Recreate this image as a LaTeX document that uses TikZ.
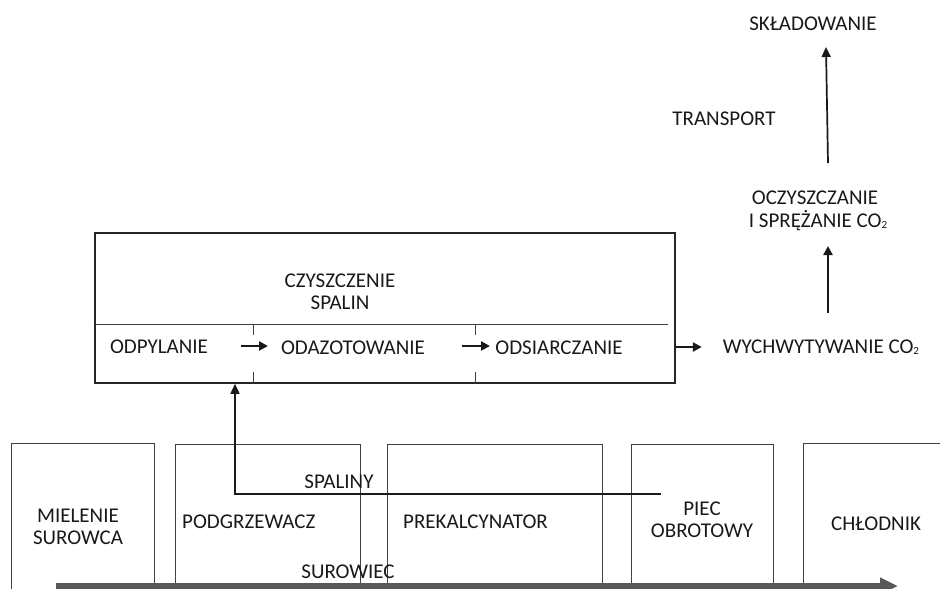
\documentclass[tikz,border=0pt]{standalone}
\usepackage{fontspec}
\setmainfont{Carlito}
\usetikzlibrary{arrows.meta}
\newcommand{\subtwo}{\raisebox{-1pt}{\fontsize{11}{11}\selectfont 2}}
\begin{document}
\begin{tikzpicture}[x=1pt,y=-1pt,
  lbl/.style={font=\fontsize{21}{22}\selectfont, text=black!90, inner sep=0pt, align=center},
  bigbox/.style={draw=black!85, line width=1.6pt, inner sep=0pt, minimum width=580pt, minimum height=150pt},
  stagebox/.style={draw=black!75, line width=0.9pt},
  tick/.style={draw=black!75, line width=0.9pt},
  flow/.style={draw=black!90, line width=2.6pt, -{Triangle[length=9pt,width=9pt]}},
  thinflow/.style={draw=black!90, line width=1.7pt, -{Triangle[length=10pt,width=9pt]}},
  gasflow/.style={draw=black!90, line width=1.6pt, -{Triangle[length=10pt,width=9pt]}},
  feed/.style={draw=black!65, line width=6pt, -{Triangle[length=18pt,width=16pt]}}
]
\useasboundingbox (0,0) rectangle (940,589);

% top gas cleaning box
\node[bigbox] (czysz) at (385,308) {};
\draw[stagebox] (95,324) -- (668,324);
\draw[tick] (253,324) -- (253,335);
\draw[tick] (253,372) -- (253,383);
\draw[tick] (475,324) -- (475,335);
\draw[tick] (475,372) -- (475,383);

\node[lbl] (cz) at (340,281) {CZYSZCZENIE};
\node[lbl] (sp) at (340,303) {SPALIN};
\node[lbl] (odp) at (159,347) {ODPYLANIE};
\node[lbl] (oda) at (353,348) {ODAZOTOWANIE};
\node[lbl] (ods) at (559,348) {ODSIARCZANIE};
\coordinate (a1s) at (241,346);
\coordinate (a1e) at (268,346);
\coordinate (a2s) at (462,346);
\coordinate (a2e) at (490,346);
\draw[flow] (a1s) -- (a1e);
\draw[flow] (a2s) -- (a2e);

% CO2 chain
\node[lbl] (wych) at (821,347) {WYCHWYTYWANIE CO\subtwo};
\draw[flow] (czysz.east |- wych) -- ++(26,0) coordinate (a3e);
\node[lbl] (ocz1) at (815,198) {OCZYSZCZANIE};
\node[lbl] (ocz2) at (818,221) {I SPRĘŻANIE CO\subtwo};
\coordinate (a4s) at (828,313);
\coordinate (a4e) at (828,246);
\draw[flow] (a4s) -- (a4e);
\node[lbl] (skl) at (813,24) {SKŁADOWANIE};
\node[lbl] (tr) at (724,119) {TRANSPORT};
\coordinate (a5s) at (828,163);
\coordinate (a5e) at (826,47);
\draw[thinflow] (a5s) -- (a5e);

% bottom stages (open boxes)
\draw[stagebox] (11,589) -- (11,443) -- (154,443) -- (154,589);
\draw[stagebox] (175,589) -- (175,444) -- (360,444) -- (360,589);
\draw[stagebox] (387,589) -- (387,444) -- (602,444) -- (602,589);
\draw[stagebox] (631,589) -- (631,444) -- (773,444) -- (773,589);
\draw[stagebox] (803,589) -- (803,443) -- (940,443);

\node[lbl] (miel) at (78,527) {MIELENIE\\SUROWCA};
\node[lbl, anchor=west] (podg) at (182,522) {PODGRZEWACZ};
\node[lbl, anchor=west] (prek) at (403,522) {PREKALCYNATOR};
\node[lbl] (piec) at (702,520) {PIEC\\OBROTOWY};
\node[lbl] (chl) at (876,524) {CHŁODNIK};

% flue gas
\node[lbl] (spaliny) at (339,482) {SPALINY};
\coordinate (g0) at (661,494);
\coordinate (g1) at (235,494);
\draw[gasflow] (g0) -- (g1) -- (g1 |- czysz.south);

% raw meal feed
\node[lbl] (surowiec) at (348,572) {SUROWIEC};
\coordinate (f0) at (56,586);
\coordinate (f1) at (898,586);
\draw[feed] (f0) -- (f1);
\end{tikzpicture}
\end{document}
